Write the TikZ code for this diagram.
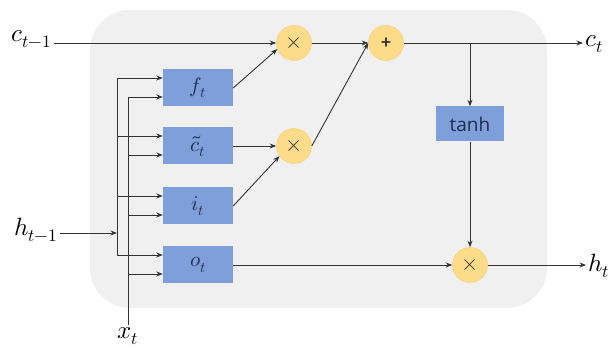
\documentclass[tikz,border=0pt]{standalone}
\usepackage{fontspec}
\usepackage{unicode-math}
\setmathfont{Latin Modern Math}
\newfontfamily\opensans{Open Sans}
\newfontfamily\carlito{Carlito}
\usetikzlibrary{arrows.meta,calc}
\definecolor{bgc}{HTML}{F0F0F0}
\definecolor{boxc}{HTML}{7F9FDB}
\definecolor{circc}{HTML}{FCDC88}
\definecolor{circe}{HTML}{F6D27C}
\definecolor{lnc}{HTML}{333333}
\definecolor{txtc}{HTML}{1F2D4D}
\begin{document}
\begin{tikzpicture}[x=1pt,y=-1pt,
  gate/.style={fill=boxc, minimum width=70pt, minimum height=37pt, inner sep=0pt,
    text=txtc, font=\fontsize{21}{24}\selectfont},
  op/.style={circle, fill=circc, draw=circe, line width=0.6pt, minimum size=35pt,
    inner sep=0pt, text=lnc, font=\fontsize{22}{24}\selectfont},
  conn/.style={draw=lnc, line width=0.9pt, -{Stealth[length=6.5pt,width=5pt]}},
  bus/.style={draw=lnc, line width=0.9pt},
  lab/.style={font=\fontsize{25}{28}\selectfont, inner sep=2pt}
]
\useasboundingbox (0,0) rectangle (611,352);
\fill[bgc, rounded corners=40pt] (90,10) rectangle (547,308);

% gates
\node[gate] (f) at (198,88) {$f_t$};
\node[gate] (c) at (198,146) {$\tilde{c}_t$};
\node[gate] (i) at (198,206) {$i_t$};
\node[gate] (o) at (198,265) {$o_t$};
\node[gate, minimum width=68pt, minimum height=35pt,
  font=\opensans\fontsize{19}{21}\selectfont] (tanh) at (470,124) {tanh};

% operators
\node[op] (m1) at (294,43) {$\times$};
\node[op] (m2) at (294,146) {$\times$};
\node[op, font=\carlito\bfseries\fontsize{19}{21}\selectfont] (add) at (386,43) {+};
\node[op] (m3) at (470,265) {$\times$};

% outer labels
\node[lab, anchor=east] (cin) at (54,39) {$c_{t-1}$};
\node[lab, anchor=east] (hin) at (60,230) {$h_{t-1}$};
\node[lab, anchor=north] (xin) at (128,325) {$x_t$};
\node[lab, anchor=west] (cout) at (583,44) {$c_t$};
\node[lab, anchor=west] (hout) at (586,266) {$h_t$};

% bus coordinates
\coordinate (bus1) at (117,0);
\coordinate (bus2) at (128,0);
\foreach \g in {f,c,i,o} {
  \coordinate (\g a) at ($(\g.west)+(0,-10)$);
  \coordinate (\g b) at ($(\g.west)+(0,9)$);
  \draw[conn] (\g a -| bus1) -- (\g a);
  \draw[conn] (\g b -| bus2) -- (\g b);
}
\draw[bus] (fa -| bus1) -- (oa -| bus1);
\draw[bus] (fb -| bus2) -- (xin.north -| bus2);
\coordinate (hjoin) at (0,233 -| bus1);
\draw[conn] (hin.east |- hjoin) -- (hjoin);

% cell state
\draw[conn] (cin.east |- m1) -- (m1.west);
\draw[conn] (f.east) -- (m1.200);
\draw[conn] (c.east) -- (m2.west);
\draw[conn] (i.east) -- (m2.215);
\draw[conn] (m1.east) -- (add.west);
\draw[conn] (m2.east) -- (add.west);
\coordinate (cend) at (cout.west |- add);
\draw[conn] (add.east) -- (cend);
\coordinate (branch) at (add -| tanh);
\draw[conn] (branch) -- (tanh.north);
\draw[conn] (tanh.south) -- (m3.north);
\draw[conn] (o.east) -- (m3.west);
\coordinate (hend) at (hout.west |- m3);
\draw[conn] (m3.east) -- (hend);
\end{tikzpicture}
\end{document}
